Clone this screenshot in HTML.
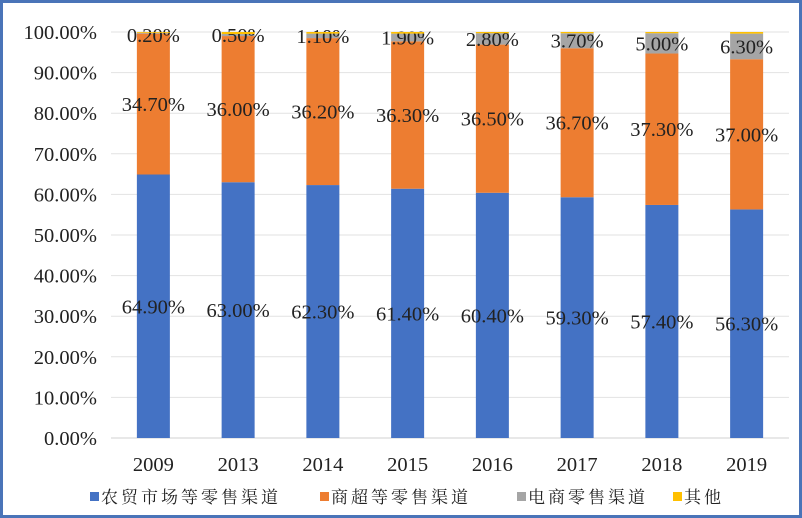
<!DOCTYPE html>
<html><head><meta charset="utf-8"><style>
body{margin:0;width:802px;height:518px;overflow:hidden;background:#fff}
#frame{position:absolute;left:0;top:0;width:796px;height:512px;border:3px solid #4a74b8;background:#fff}
svg{position:absolute;left:0;top:0}
text{font-family:"Liberation Serif","Noto Serif CJK SC",serif}
</style></head><body>
<div id="frame"></div>
<svg id="chart" width="802" height="518"></svg>
<script>
const categories=["2009","2013","2014","2015","2016","2017","2018","2019"];
const farmMarket=[64.9,63.0,62.3,61.4,60.4,59.3,57.4,56.3];
const supermarket=[34.7,36.0,36.2,36.3,36.5,36.7,37.3,37.0];
const ecommerce=[0.2,0.5,1.1,1.9,2.8,3.7,5.0,6.3];
const other=[0.2,0.5,0.4,0.4,0.3,0.3,0.3,0.4];
const yTicks=[0,10,20,30,40,50,60,70,80,90,100];
const seriesNames=["农贸市场等零售渠道","商超等零售渠道","电商零售渠道","其他"];
const colors=["#4472c4","#ed7d31","#a5a5a5","#ffc000"];
const NS="http://www.w3.org/2000/svg";
const svg=document.getElementById('chart');
const x0=111,x1=789,y0=438,y1=32;
const band=(x1-x0)/categories.length,bw=33;
const y=v=>y0-(v/100)*(y0-y1);
const xc=i=>x0+band*(i+0.5);
function mk(t,a,txt){const e=document.createElementNS(NS,t);for(const k in a)e.setAttribute(k,a[k]);if(txt!=null)e.textContent=txt;svg.appendChild(e);return e;}
yTicks.forEach(t=>{
 const g=mk('line',{x1:x0,x2:x1,y1:y(t),y2:y(t),stroke:t===0?'#d0d0d0':'#e2e2e2','stroke-width':1});
 
 
 const l=mk('text',{x:97,y:y(t)+7,'text-anchor':'end','font-size':20.5,fill:'#222'},t.toFixed(2)+'%');
 
 
});
const all=[farmMarket,supermarket,ecommerce,other];
categories.forEach((c,i)=>{
 let base=0;
 all.forEach((s,k)=>{
  const top=Math.min(100,base+s[i]);
  const r=mk('rect',{x:xc(i)-bw/2,y:y(top),width:bw,height:Math.max(0,y(base)-y(top)),fill:colors[k]});
  
  
  if(k<3){
   const mid=(base+top)/2;
   const ty=k==2?Math.max(y(mid)+7,y(100)+10):y(mid)+7;
   const t=mk('text',{x:xc(i),y:ty,'text-anchor':'middle','font-size':20.5,fill:'#222'},s[i].toFixed(2)+'%');
   
   
  }
  base=top;
 });
 const xl=mk('text',{x:xc(i),y:471,'text-anchor':'middle','font-size':20.5,fill:'#222'},c);
 
 
});
const lx=[90,320,517,673];
seriesNames.forEach((n,k)=>{
 const r=mk('rect',{x:lx[k],y:492,width:9,height:9,fill:colors[k]});
 
 
 const t=mk('text',{x:lx[k]+11,y:503,'font-size':17,fill:'#222','letter-spacing':'3'},n);
 
 
});
</script>
</body></html>
